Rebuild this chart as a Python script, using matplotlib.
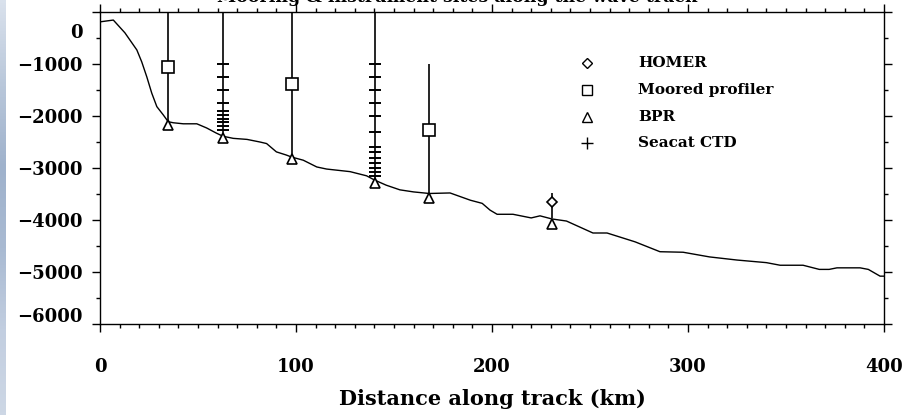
import numpy as np
import matplotlib.pyplot as plt
from matplotlib.colors import LinearSegmentedColormap
from matplotlib.transforms import ScaledTranslation

# bathymetry along the track (km, m)
bathy_km = [0, 0.5, 6.8, 12.7, 18.8, 21.3, 23.9, 26.4, 29, 32.3, 34.8, 37.4, 42.5, 49.4,
            54.4, 59.4, 62.8, 68, 75, 81.6, 85, 90, 95, 97.8, 103.7, 110.6, 115.6, 127.6,
            136, 140, 146, 153, 160, 168, 178.6, 189, 195, 199, 202.6, 210.7, 220, 224.5,
            230.6, 238, 251.5, 258.7, 273, 285.7, 297.5, 311, 325, 340, 347, 358.7, 367,
            372, 376, 387.8, 392, 398, 400]
bathy_depth = [-190, -187, -155, -400, -730, -960, -1250, -1560, -1820, -1980, -2110, -2130,
               -2150, -2150, -2230, -2330, -2390, -2430, -2450, -2500, -2530, -2690, -2750,
               -2790, -2850, -2980, -3020, -3070, -3150, -3230, -3330, -3420, -3460, -3490,
               -3480, -3620, -3680, -3810, -3890, -3890, -3960, -3920, -3980, -4020, -4250,
               -4250, -4420, -4610, -4620, -4710, -4770, -4820, -4870, -4870, -4950, -4950,
               -4920, -4920, -4950, -5080, -5080]

# mooring lines
mooring_km = [34.7, 62.5, 97.8, 140.3, 168.0, 230.8]
mooring_top = [0, 0, 0, 0, -1000, -3490]
mooring_bottom = [-2100, -2350, -2790, -3200, -3490, -3960]

# instruments
homer_km = [230.8]
homer_depth = [-3650]
profiler_km = [34.7, 97.8, 168.0]
profiler_depth = [-1060, -1390, -2260]
bpr_km = [34.7, 62.5, 97.8, 140.3, 168.0, 230.8]
bpr_depth = [-2170, -2430, -2830, -3280, -3570, -4070]
ctd_km_a = 62.5
ctd_depth_a = [-1000, -1250, -1500, -1750, -1900, -1975, -2050, -2125, -2200, -2275]
ctd_km_b = 140.3
ctd_depth_b = [-1000, -1250, -1500, -1750, -2000, -2300, -2600, -2700, -2800, -2900,
               -3000, -3075, -3150]

legend_labels = ["HOMER", "Moored profiler", "BPR", "Seacat CTD"]
legend_markers = ["D", "s", "^", "+"]

plt.rcParams['font.family'] = 'DejaVu Serif'
plt.rcParams['font.weight'] = 'bold'

fig = plt.figure(figsize=(9.07, 4.15), dpi=100)

# page background strip on the left
strip = fig.add_axes([0, 0, 6 / 907, 1])
strip_cmap = LinearSegmentedColormap.from_list(
    'page', ['#d9e1ec', '#b9c7da', '#9fb2cc', '#a9bad2', '#c2cee0', '#cdd7e5'])
strip.imshow(np.linspace(0, 1, 100).reshape(-1, 1), aspect='auto', cmap=strip_cmap,
             interpolation='bicubic')
strip.axis('off')

ax = fig.add_axes([100 / 907, 1 - 324 / 415, 784 / 907, 312 / 415])

ax.plot(bathy_km, bathy_depth, color='black', lw=1.0)
ax.vlines(mooring_km, mooring_bottom, mooring_top, color='black', lw=1.2, clip_on=False)
ax.plot([ctd_km_a] * len(ctd_depth_a), ctd_depth_a, ls='none', marker='_',
        ms=9, mew=1.4, color='black')
ax.plot([ctd_km_b] * len(ctd_depth_b), ctd_depth_b, ls='none', marker='_',
        ms=9, mew=1.4, color='black')
ax.plot(profiler_km, profiler_depth, ls='none', marker='s', ms=8, mfc='white',
        mec='black', mew=1.2)
ax.plot(bpr_km, bpr_depth, ls='none', marker='^', ms=7.5, mfc='white',
        mec='black', mew=1.2)
ax.plot(homer_km, homer_depth, ls='none', marker='D', ms=5.5, mfc='white',
        mec='black', mew=1.2)

# legend drawn by hand in axes fraction
legend_y = [0.8365, 0.75, 0.6635, 0.58]
legend_ms = {"D": 5.5, "s": 6.5, "^": 6.5, "+": 8}
for lab, mk, yy in zip(legend_labels, legend_markers, legend_y):
    ax.plot(0.621, yy, transform=ax.transAxes, marker=mk, ms=legend_ms[mk], mfc='white',
            mec='black', mew=1.0, ls='none')
    ax.text(0.686, yy, lab, transform=ax.transAxes, fontsize=11, fontweight='bold',
            va='center', ha='left')

ax.set_xlim(0, 400)
ax.set_ylim(-6000, 0)
ax.set_xticks([0, 100, 200, 300, 400])
ax.set_xticks(np.arange(0, 401, 10), minor=True)
ax.set_yticks(np.arange(-6000, 1, 1000))
ax.set_yticks(np.arange(-6000, 1, 500), minor=True)
ax.tick_params(which='both', direction='out', top=True, right=True, width=1.0)
ax.tick_params(which='major', length=5.5)
ax.tick_params(which='minor', length=3)
ax.tick_params(axis='x', which='major', pad=19, labelsize=13)
ax.tick_params(axis='y', which='major', pad=7, labelsize=13)
for sp in ax.spines.values():
    sp.set_linewidth(1.0)

ax.set_xlabel("Distance along track (km)", fontsize=15, fontweight='bold', labelpad=9)

fig.canvas.draw()
ylabels = ax.get_yticklabels()
ylabels[-1].set_transform(ylabels[-1].get_transform() +
                          ScaledTranslation(0, -0.19, fig.dpi_scale_trans))
ylabels[0].set_transform(ylabels[0].get_transform() +
                         ScaledTranslation(0, 0.09, fig.dpi_scale_trans))

# title sits mostly above the top edge of the image, as in the original page
fig.text(0.504, 1 - 1.5 / 415, "Mooring & instrument sites along the wave track",
         ha='center', va='baseline', fontsize=12.5, fontweight='bold')

fig.savefig("out.png", dpi=100)
